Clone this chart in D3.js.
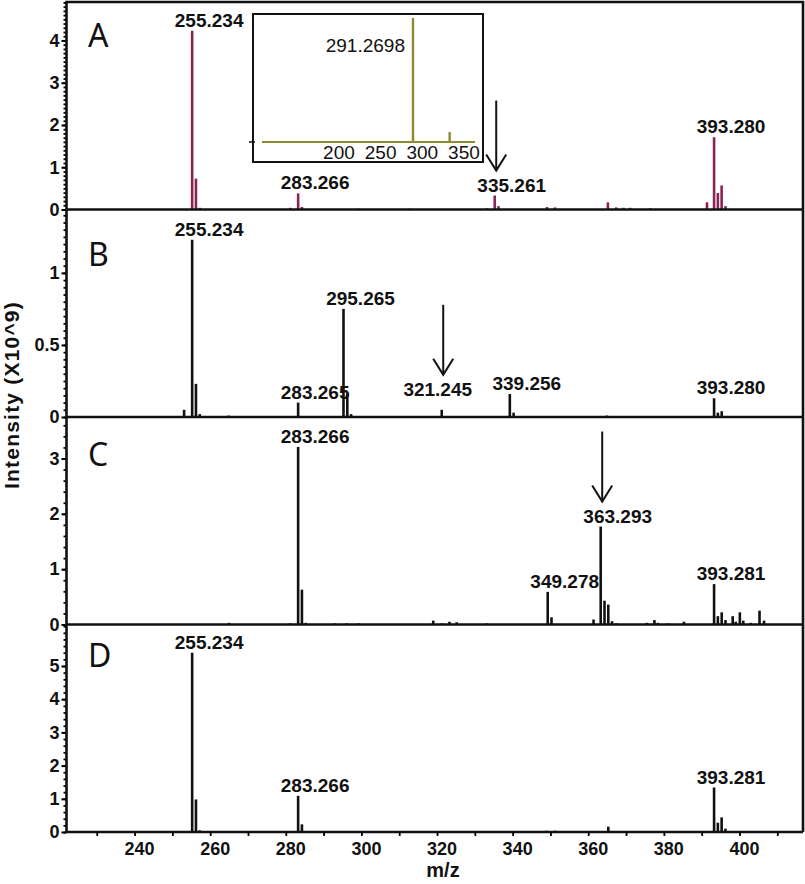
<!DOCTYPE html>
<html>
<head>
<meta charset="utf-8">
<script src="https://cdnjs.cloudflare.com/ajax/libs/d3/7.8.5/d3.min.js"></script>
<style>
    body { margin: 0; background: #fff; }
    svg { display: block; }
    .num { font-family: "Liberation Sans", Arial, sans-serif; font-weight: bold; }
</style>
</head>
<body>
<div id="chart"></div>
<script>
// m/z range of the shared x axis
var mzDomain = [222, 416.8];
var xTicks = [230, 240, 250, 260, 270, 280, 290, 300, 310, 320, 330, 340, 350, 360, 370, 380, 390, 400, 410];

var panelNames = ["A", "B", "C", "D"];
var yMax = [4.91, 1.44, 3.75, 6.25];
var yTicksA = [0, 1, 2, 3, 4];
var yTicksB = [0, 0.5, 1];
var yTicksC = [0, 1, 2, 3];
var yTicksD = [0, 1, 2, 3, 4, 5];
var yMinorStep = [0.1, 0.05, 0.2, 0.2];

// spectrum A
var mzA = [255.234, 256.237, 257.24, 281.2, 283.266, 284.27, 299.1, 312.9, 333.2, 335.261, 336.26, 349.1, 351.2, 365.2, 367.4, 369.3, 371.1, 376.4, 391.4, 393.280, 394.28, 395.28, 396.3];
var intA = [4.23, 0.73, 0.04, 0.04, 0.38, 0.06, 0.02, 0.02, 0.03, 0.33, 0.08, 0.06, 0.05, 0.17, 0.05, 0.04, 0.04, 0.03, 0.17, 1.71, 0.39, 0.57, 0.08];
// spectrum B
var mzB = [253.1, 255.234, 256.24, 257.24, 264.9, 283.265, 295.265, 296.27, 297.27, 321.245, 339.256, 340.26, 364.9, 393.280, 394.28, 395.3];
var intB = [0.05, 1.23, 0.23, 0.02, 0.01, 0.10, 0.75, 0.16, 0.02, 0.05, 0.16, 0.03, 0.01, 0.13, 0.03, 0.04];
// spectrum C
var mzC = [265.0, 281.2, 283.266, 284.27, 285.27, 293.0, 296.1, 299.2, 307.2, 311.0, 319.0, 321.3, 323.3, 325.2, 333.2, 349.278, 350.28, 361.4, 363.293, 364.3, 365.3, 366.3, 367.5, 375.5, 377.5, 378.4, 381.2, 385.3, 393.281, 394.28, 395.3, 396.3, 398.2, 399.0, 400.1, 401.0, 403.0, 405.3, 406.5];
var intC = [0.03, 0.02, 3.21, 0.63, 0.03, 0.02, 0.02, 0.02, 0.01, 0.01, 0.07, 0.02, 0.05, 0.04, 0.02, 0.59, 0.13, 0.09, 1.77, 0.43, 0.36, 0.06, 0.02, 0.03, 0.08, 0.03, 0.02, 0.05, 0.73, 0.15, 0.22, 0.08, 0.15, 0.05, 0.22, 0.07, 0.03, 0.25, 0.07];
// spectrum D
var mzD = [255.234, 256.24, 257.24, 269.2, 281.2, 283.266, 284.27, 291.3, 297.0, 299.2, 312.9, 349.0, 351.2, 365.3, 367.5, 376.4, 393.281, 394.28, 395.28, 396.3];
var intD = [5.40, 0.98, 0.05, 0.03, 0.02, 1.09, 0.23, 0.03, 0.03, 0.02, 0.01, 0.04, 0.04, 0.16, 0.03, 0.02, 1.34, 0.28, 0.44, 0.10];

// peak labels and arrows
var labelsA = ["255.234", "283.266", "335.261", "393.280"];
var labelsB = ["255.234", "283.265", "295.265", "321.245", "339.256", "393.280"];
var labelsC = ["283.266", "349.278", "363.293", "393.281"];
var labelsD = ["255.234", "283.266", "393.281"];
var arrowsA = [335.261];
var arrowsB = [321.245];
var arrowsC = [363.293];
var arrowsD = [];

// inset of panel A
var insetDomain = [110, 365.7];
var insetTicks = [200, 250, 300, 350];
var insetMz = [291.2698, 335.26];
var insetInt = [1.0, 0.08];
var insetLabel = "291.2698";

var width = 805, height = 884;
var margin = {top: 2, left: 66.5, right: 2};
var panelH = 207.5;
var colors = ["#8a2454", "#111", "#111", "#111"];
var letterDy = [45, 56, 49, 42];
var labelNudge = {"321.245": [-21, -10]};

var panels = [
    {mz: mzA, v: intA, ticks: yTicksA, labels: labelsA, arrows: arrowsA},
    {mz: mzB, v: intB, ticks: yTicksB, labels: labelsB, arrows: arrowsB},
    {mz: mzC, v: intC, ticks: yTicksC, labels: labelsC, arrows: arrowsC},
    {mz: mzD, v: intD, ticks: yTicksD, labels: labelsD, arrows: arrowsD}
];

var svg = d3.select("#chart").append("svg")
        .attr("width", width)
        .attr("height", height);

var x = d3.scaleLinear().domain(mzDomain).range([margin.left, width - margin.right]);

panels.forEach(function (p, i) {
    var top = margin.top + i * panelH;
    var y = d3.scaleLinear().domain([0, yMax[i]]).range([top + panelH, top]);
    var g = svg.append("g");

    // minor ticks
    g.append("g")
            .attr("transform", "translate(" + margin.left + ",0)")
            .call(d3.axisLeft(y).tickValues(d3.range(0, yMax[i], yMinorStep[i])).tickSize(3).tickFormat(""))
            .call(function (a) { a.select(".domain").remove(); })
            .selectAll("line").attr("stroke-width", 1.8);

    // major ticks
    var ax = g.append("g")
            .attr("class", "num")
            .attr("transform", "translate(" + margin.left + ",0)")
            .call(d3.axisLeft(y).tickValues(p.ticks).tickSize(5).tickPadding(2).tickFormat(function (d) { return String(d); }));
    ax.select(".domain").remove();
    ax.selectAll("line").attr("stroke-width", 2);
    ax.selectAll("text").attr("font-size", 18).attr("fill", "#111");

    // sticks
    g.append("g")
            .selectAll("line")
            .data(p.mz)
            .enter()
            .append("line")
            .attr("x1", function (d) { return x(d); })
            .attr("x2", function (d) { return x(d); })
            .attr("y1", y(0))
            .attr("y2", function (d, k) { return y(p.v[k]); })
            .attr("stroke", colors[i])
            .attr("stroke-width", 2.6);

    // peak labels
    var labelPos = p.labels.map(function (t) {
        var m = +t;
        var h = d3.max(p.mz.map(function (d, k) { return Math.abs(d - m) < 0.5 ? p.v[k] : 0; }));
        var n = labelNudge[t] || [0, 0];
        return {text: t, mz: m, x: x(m) + 17 + n[0], y: y(h) - 4 + n[1]};
    });
    g.append("g")
            .selectAll("text")
            .data(labelPos)
            .enter()
            .append("text")
            .attr("class", "num")
            .attr("font-size", 19)
            .attr("text-anchor", "middle")
            .attr("fill", "#111")
            .attr("x", function (d) { return d.x; })
            .attr("y", function (d) { return d.y; })
            .text(function (d) { return d.text; });

    // arrows
    p.arrows.forEach(function (m) {
        var lab = labelPos.filter(function (d) { return Math.abs(d.mz - m) < 0.01; })[0];
        var ax0 = x(m) + 1.5;
        var tip = lab.y - 21;
        var a = g.append("g").attr("stroke", "#111").attr("fill", "none").attr("stroke-width", 2);
        a.append("line").attr("x1", ax0).attr("x2", ax0).attr("y1", tip - 70).attr("y2", tip);
        a.append("polyline").attr("points", (ax0 - 10) + "," + (tip - 16) + " " + ax0 + "," + tip + " " + (ax0 + 10) + "," + (tip - 16));
    });

    // panel letter
    g.append("text")
            .attr("x", 88)
            .attr("y", top + letterDy[i])
            .attr("font-family", "'Noto Sans', 'Open Sans', sans-serif")
            .attr("font-size", 32)
            .attr("fill", "#111")
            .text(panelNames[i]);

    // baseline / separator
    g.append("line")
            .attr("x1", margin.left).attr("x2", width - margin.right)
            .attr("y1", y(0)).attr("y2", y(0))
            .attr("stroke", "#111").attr("stroke-width", 2.6);
});

var bottom = margin.top + 4 * panelH;

// frame
svg.append("path")
        .attr("d", "M" + margin.left + "," + bottom + "V" + margin.top + "H" + (width - margin.right) + "V" + bottom)
        .attr("fill", "none")
        .attr("stroke", "#111")
        .attr("stroke-width", 2.6);

// bottom axis
var xa = svg.append("g")
        .attr("class", "num")
        .attr("transform", "translate(0," + bottom + ")")
        .call(d3.axisBottom(x).tickValues(xTicks).tickSize(4).tickPadding(6)
                .tickFormat(function (d) { return d % 20 === 0 ? d : ""; }));
xa.select(".domain").remove();
xa.selectAll("line").attr("stroke-width", 1.8);
xa.selectAll("text").attr("font-size", 18).attr("fill", "#111").attr("dx", 4.5);

svg.append("text")
        .attr("class", "num")
        .attr("x", 443)
        .attr("y", 877)
        .attr("text-anchor", "middle")
        .attr("font-size", 20)
        .attr("fill", "#111")
        .text("m/z");

svg.append("text")
        .attr("class", "num")
        .attr("transform", "translate(19,395) rotate(-90)")
        .attr("text-anchor", "middle")
        .attr("font-size", 21)
        .attr("letter-spacing", 1.2)
        .attr("fill", "#111")
        .text("Intensity (X10^9)");

// inset
var ix = d3.scaleLinear().domain(insetDomain).range([262, 475]);
var iy = d3.scaleLinear().domain([0, 1]).range([142, 18]);
var inset = svg.append("g");
inset.append("rect")
        .attr("x", 253).attr("y", 14)
        .attr("width", 230).attr("height", 148)
        .attr("fill", "#fff")
        .attr("stroke", "#111")
        .attr("stroke-width", 2);
inset.append("line")
        .attr("x1", 249).attr("x2", 255)
        .attr("y1", iy(0)).attr("y2", iy(0))
        .attr("stroke", "#111").attr("stroke-width", 1.5);
inset.append("line")
        .attr("x1", ix(insetDomain[0])).attr("x2", ix(insetDomain[1]))
        .attr("y1", iy(0)).attr("y2", iy(0))
        .attr("stroke", "#8f8a2e").attr("stroke-width", 2.2);
inset.selectAll(".ipk")
        .data(insetMz)
        .enter()
        .append("line")
        .attr("class", "ipk")
        .attr("x1", function (d) { return ix(d); })
        .attr("x2", function (d) { return ix(d); })
        .attr("y1", iy(0))
        .attr("y2", function (d, k) { return iy(insetInt[k]); })
        .attr("stroke", "#8f8a2e")
        .attr("stroke-width", 2.4);
inset.selectAll(".itk")
        .data(insetTicks)
        .enter()
        .append("text")
        .attr("class", "itk")
        .attr("font-family", "'Liberation Sans', Arial, sans-serif")
        .attr("font-size", 19)
        .attr("text-anchor", "middle")
        .attr("fill", "#111")
        .attr("x", function (d) { return ix(d) + 2; })
        .attr("y", 159)
        .text(function (d) { return d; });
inset.append("text")
        .attr("font-family", "'Liberation Sans', Arial, sans-serif")
        .attr("font-size", 19)
        .attr("text-anchor", "end")
        .attr("fill", "#111")
        .attr("x", ix(insetMz[0]) - 8)
        .attr("y", 52)
        .text(insetLabel);
</script>
</body>
</html>
